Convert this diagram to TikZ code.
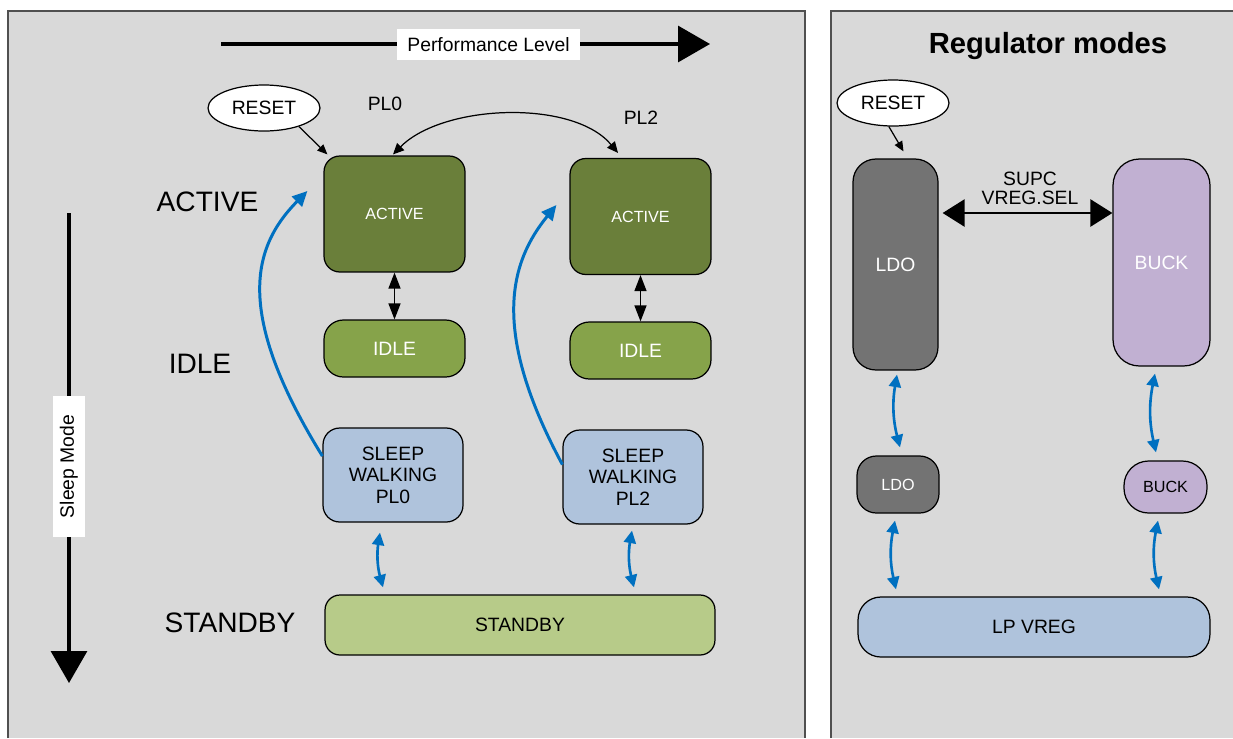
\documentclass[tikz,border=0pt]{standalone}
\usepackage{fontspec}
\setmainfont{Liberation Sans}
\usetikzlibrary{arrows.meta, shapes.geometric}
\definecolor{cpanel}{HTML}{D9D9D9}
\definecolor{cframe}{HTML}{505050}
\definecolor{cactive}{HTML}{6A7F3A}
\definecolor{cidle}{HTML}{86A34A}
\definecolor{cstandby}{HTML}{B7CB89}
\definecolor{csleep}{HTML}{AFC3DC}
\definecolor{cldo}{HTML}{737373}
\definecolor{cbuck}{HTML}{C1B0D2}
\definecolor{cflow}{HTML}{0070C0}
\tikzset{
  every picture/.style={line width=0.7pt},
  frame/.style={draw=cframe, line width=0.8pt},
  box/.style={draw=black, fill=#1, rounded corners=9pt, align=center, inner sep=1pt, font=\fontsize{11}{12.2}\selectfont},
  box/.default=cpanel,
  small/.style={font=\fontsize{9.2}{11}\selectfont},
  reset/.style={ellipse, draw=black, fill=white, minimum width=2.24cm, minimum height=0.92cm, inner sep=0pt, font=\fontsize{11}{13}\selectfont},
  note/.style={align=center, font=\fontsize{11}{10.8}\selectfont},
  level/.style={font=\fontsize{16}{19}\selectfont},
  title/.style={font=\fontsize{16.6}{20}\selectfont\bfseries},
  axis/.style={-{Triangle[length=0.64cm, width=0.72cm]}, line width=1.8pt},
  axlabel/.style={fill=white, inner sep=0pt, minimum height=0.63cm, font=\fontsize{11}{13}\selectfont},
  thin/.style={-{Triangle[length=2mm, width=1.7mm]}, line width=0.7pt},
  plarc/.style={{Triangle[length=2.2mm, width=2mm]}-{Triangle[length=2.2mm, width=2mm]}, line width=0.7pt},
  dbl/.style={{Triangle[length=0.32cm, width=0.24cm]}-{Triangle[length=0.32cm, width=0.24cm]}, line width=0.8pt},
  bigdbl/.style={{Triangle[length=0.44cm, width=0.54cm]}-{Triangle[length=0.44cm, width=0.54cm]}, line width=1.5pt},
  flow/.style={draw=cflow, -{Triangle[length=0.3cm, width=0.28cm]}, line width=1.7pt},
  bflow/.style={draw=cflow, {Triangle[length=0.25cm, width=0.24cm]}-{Triangle[length=0.25cm, width=0.24cm]}, line width=1.5pt},
}

\begin{document}
\begin{tikzpicture}[x=0.02cm, y=-0.02cm,
    active/.style={box=cactive, text=white, minimum width=2.82cm, minimum height=2.32cm, small},
    idle/.style={box=cidle, text=white, minimum width=2.82cm, minimum height=1.14cm, rounded corners=11pt},
    sleepw/.style={box=csleep, minimum width=2.8cm, minimum height=1.88cm, rounded corners=9.5pt}]
  \useasboundingbox (0,0) rectangle (1233,738);
  % panels
  \fill[cpanel] (8,11) rectangle (805,738);
  \draw[frame] (8,738) -- (8,11) -- (805,11) -- (805,738);
  \fill[cpanel] (831,11) rectangle (1233,738);
  \draw[frame] (831,738) -- (831,11) -- (1233,11);
  % axes
  \coordinate (perfA) at (221,44);
  \coordinate (perfB) at (710,44);
  \draw[axis] (perfA) -- (perfB);
  \node[axlabel, minimum width=3.66cm] (perf) at (488.5,44.5) {Performance Level};
  \coordinate (sleepA) at (69,213);
  \coordinate (sleepB) at (69,683);
  \draw[axis] (sleepA) -- (sleepB);
  \node[axlabel, rotate=90, minimum width=2.82cm, minimum height=0.64cm] (slp) at (69,466.5) {Sleep Mode};
  % mode names
  \node[level] (lvAct) at (207.5,202) {ACTIVE};
  \node[level] (lvIdle) at (200,364) {IDLE};
  \node[level] (lvStby) at (230,623) {STANDBY};
  % PL0 and PL2 columns
  \node[reset] (rstL) at (264,108) {RESET};
  \node[note] (pl0) at (385,104) {PL0};
  \node[note] (pl2) at (641,118) {PL2};
  \node[active] (actL) at (394.5,214) {ACTIVE};
  \node[active] (actR) at (640.5,216.5) {ACTIVE};
  \node[idle] (idleL) at (394.5,348.5) {IDLE};
  \node[idle] (idleR) at (640.5,350.5) {IDLE};
  \node[sleepw] (slpL) at (393,475) {SLEEP\\WALKING\\PL0};
  \node[sleepw] (slpR) at (633,477) {SLEEP\\WALKING\\PL2};
  \node[box=cstandby, minimum width=7.8cm, minimum height=1.2cm, rounded corners=8.5pt] (stby) at (520,625) {STANDBY};
  \draw[thin] (rstL.-28) -- ([shift={(4,-1)}]actL.north west);
  \draw[plarc] ([shift={(-1.5,-1)}]actL.north) .. controls (443,104) and (573,99) .. ([shift={(-22.5,-5)}]actR.north);
  \draw[dbl] (actL) -- (idleL);
  \draw[dbl] (actR) -- (idleR);
  \draw[flow] (slpL.165) .. controls (234,313) and (252,247) .. ([shift={(-16,-23)}]actL.west);
  \draw[flow] (slpR.170) .. controls (490,330) and (510,262) .. ([shift={(-13,-11.5)}]actR.west);
  \draw[bflow] ([shift={(-13,10)}]slpL.south) to[bend right=12] ([shift={(-137,-7)}]stby.north);
  \draw[bflow] ([shift={(-1,6)}]slpR.south) to[bend right=12] ([shift={(114,-7)}]stby.north);
  % regulator modes
  \node[title] (regt) at (1048,46) {Regulator modes};
  \node[reset] (rstR) at (893,103) {RESET};
  \node[box=cldo, text=white, minimum width=1.7cm, minimum height=4.22cm, rounded corners=13pt] (ldoT) at (895.5,264.5) {LDO};
  \node[box=cbuck, text=white, minimum width=1.94cm, minimum height=4.14cm, rounded corners=15pt] (buckT) at (1161.5,262.5) {BUCK};
  \node[box=cldo, text=white, minimum width=1.64cm, minimum height=1.14cm, rounded corners=11pt, small] (ldoS) at (898,484.5) {LDO};
  \node[box=cbuck, minimum width=1.66cm, minimum height=1.04cm, rounded corners=14pt, small] (buckS) at (1165.5,487) {BUCK};
  \node[box=csleep, minimum width=7.04cm, minimum height=1.2cm, rounded corners=13pt] (lpv) at (1034,627) {LP VREG};
  \node[note] (supc) at (1030,188) {SUPC\\VREG.SEL};
  \draw[thin] (rstR.-100) -- ([shift={(8,-7)}]ldoT.north);
  \draw[bigdbl] ([shift={(4,-51.5)}]ldoT.east) -- ([shift={(0,-49.5)}]buckT.west);
  \draw[bflow] ([shift={(1.5,4)}]ldoT.south) to[bend right=12] ([shift={(2,-8)}]ldoS.north);
  \draw[bflow] ([shift={(-6.5,7)}]buckT.south) to[bend right=12] ([shift={(-9.5,-8)}]buckS.north);
  \draw[bflow] ([shift={(-3,7)}]ldoS.south) to[bend right=12] ([shift={(-138,-7)}]lpv.north);
  \draw[bflow] ([shift={(-7.5,7)}]buckS.south) to[bend right=12] ([shift={(125,-7)}]lpv.north);
\end{tikzpicture}
\end{document}
